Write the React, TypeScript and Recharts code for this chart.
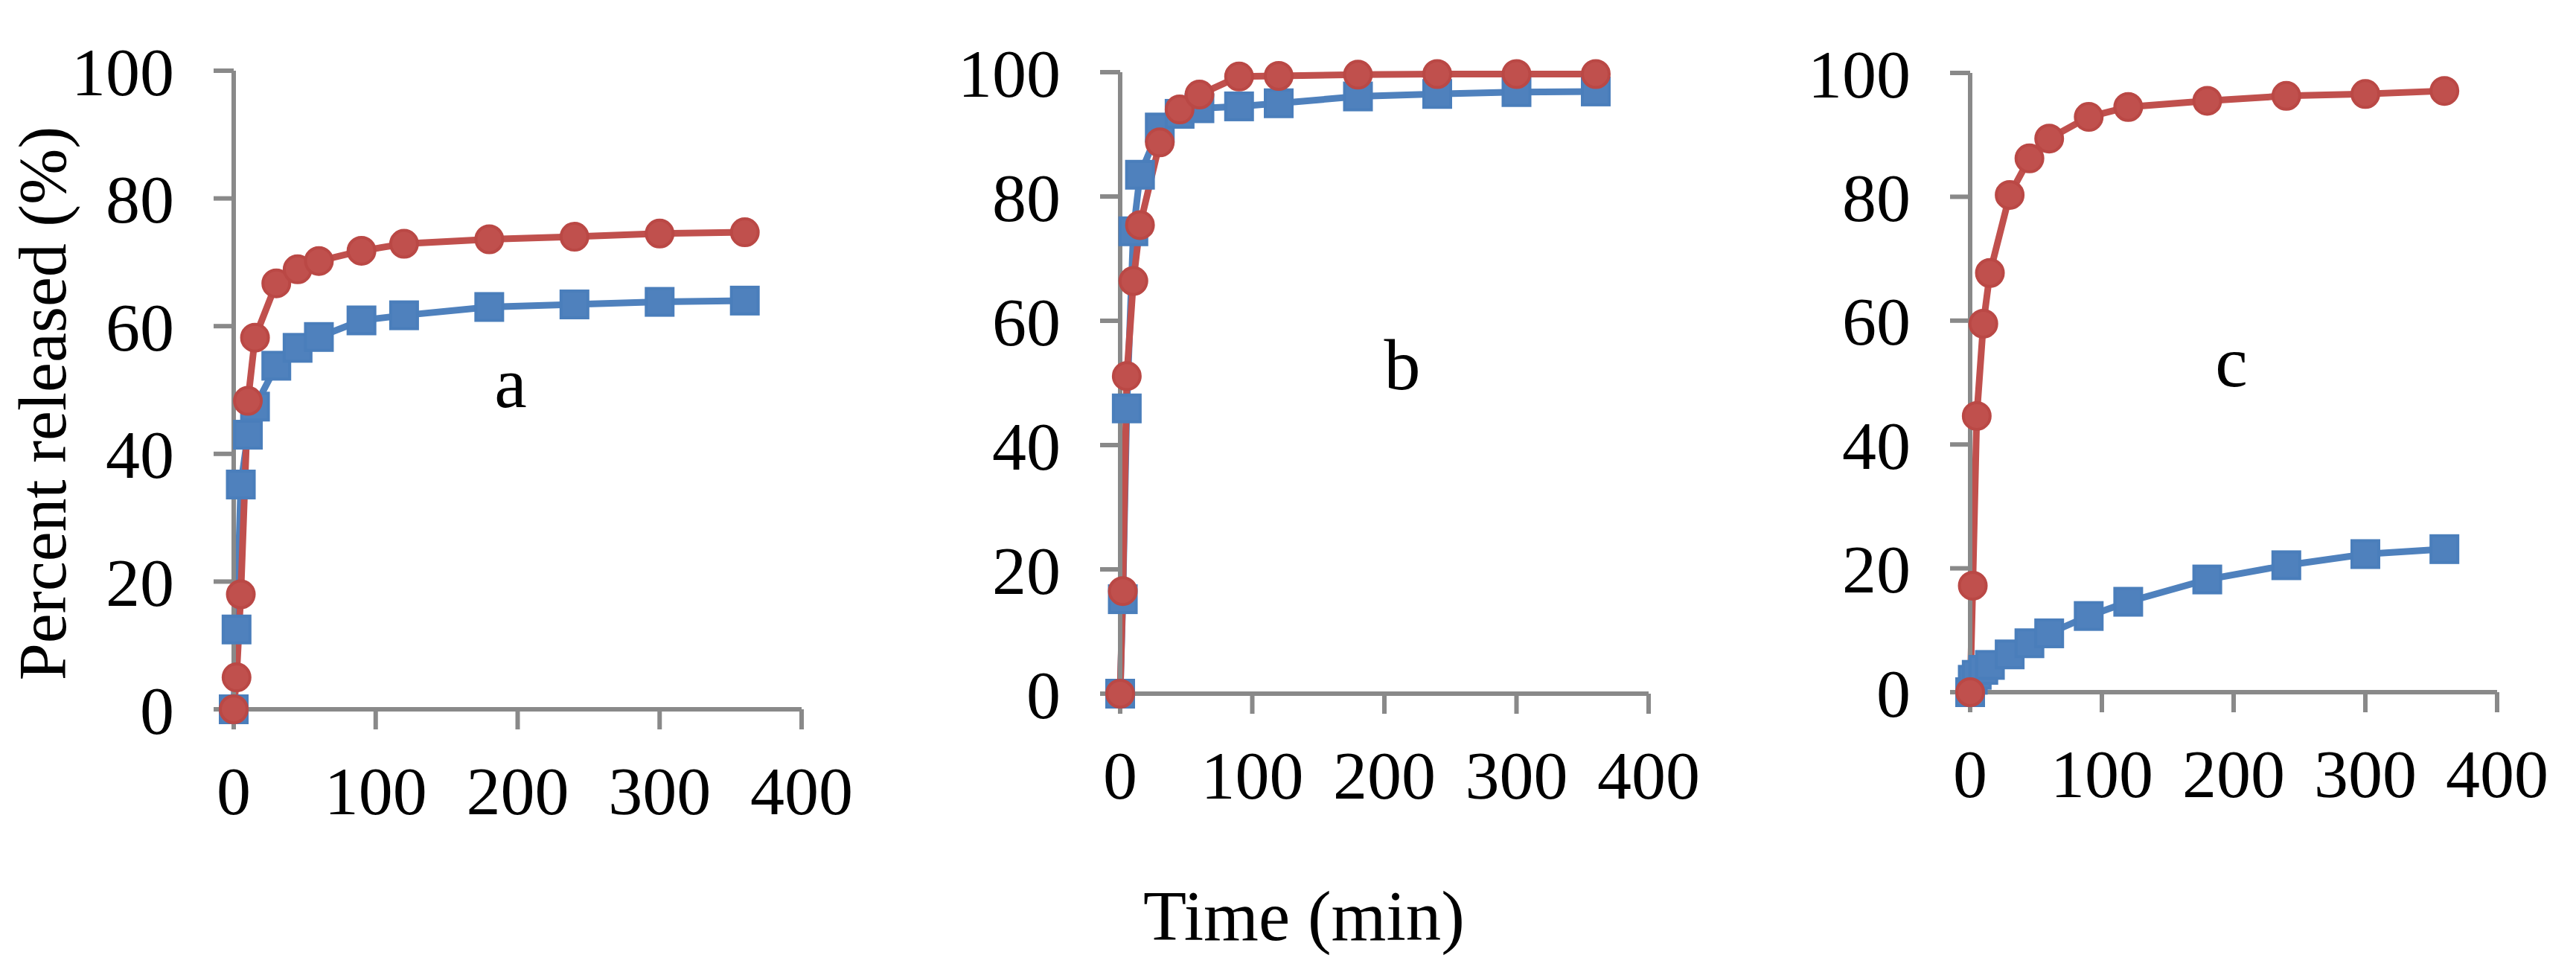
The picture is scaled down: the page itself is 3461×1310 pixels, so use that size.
import React from 'react';
import { LineChart, Line, XAxis, YAxis } from 'recharts';

// ---- data ----
const times = [0, 2, 5, 10, 15, 30, 45, 60, 90, 120, 180, 240, 300, 360];

const aBlue = [0, 12.5, 35.2, 43.0, 47.4, 53.8, 56.6, 58.3, 60.9, 61.7, 63.0, 63.4, 63.8, 64.0];
const aRed = [0, 5.0, 18.0, 48.3, 58.2, 66.7, 68.9, 70.2, 71.8, 72.9, 73.6, 74.0, 74.5, 74.7];

const bBlue = [0, 15.2, 45.9, 74.4, 83.5, 91.1, 93.3, 94.2, 94.5, 95.0, 96.1, 96.5, 96.8, 96.9];
const bRed = [0, 16.5, 51.1, 66.4, 75.4, 88.7, 94.0, 96.4, 99.3, 99.4, 99.6, 99.7, 99.7, 99.7];

const cBlue = [0, 2.0, 2.8, 3.6, 4.4, 6.1, 7.9, 9.5, 12.3, 14.6, 18.2, 20.5, 22.3, 23.1];
const cRed = [0, 17.2, 44.6, 59.5, 67.7, 80.3, 86.2, 89.4, 92.9, 94.5, 95.5, 96.3, 96.6, 97.1];

const xTicks = [0, 100, 200, 300, 400];
const yTicks = [0, 20, 40, 60, 80, 100];

const panelLetters = ['a', 'b', 'c'];
const yTitle = 'Percent released (%)';
const xTitle = 'Time (min)';

// ---- style ----
const FONT = '"Liberation Serif", "Times New Roman", Times, serif';
const AXIS = '#898989';
const BLUE = '#4F81BD';
const BLUE_EDGE = '#4A7EBB';
const RED = '#C0504D';
const RED_EDGE = '#BA4845';

const buildRows = (blue: number[], red: number[]) =>
  times.map((t, i) => ({ t, blue: blue[i], red: red[i] }));

const SquareDot = (props: any) => {
  const { cx, cy, index } = props;
  if (cx == null || cy == null) return <g key={`s${index}`} />;
  return (
    <rect
      key={`s${index}`}
      x={cx - 18}
      y={cy - 18}
      width={36}
      height={36}
      fill={BLUE}
      stroke={BLUE_EDGE}
      strokeWidth={4}
    />
  );
};

const CircleDot = (props: any) => {
  const { cx, cy, index } = props;
  if (cx == null || cy == null) return <g key={`c${index}`} />;
  return (
    <circle key={`c${index}`} cx={cx} cy={cy} r={18} fill={RED} stroke={RED_EDGE} strokeWidth={4} />
  );
};

type PanelProps = {
  left: number;
  width: number;
  margin: { top: number; right: number; left: number; bottom: number };
  rows: { t: number; blue: number; red: number }[];
};

const Panel = ({ left, width, margin, rows }: PanelProps) => (
  <div style={{ position: 'absolute', left, top: 0, width, height: 1310 }}>
    <LineChart width={width} height={1310} data={rows} margin={margin}>
      <XAxis
        type="number"
        dataKey="t"
        domain={[0, 400]}
        ticks={xTicks}
        interval={0}
        height={200}
        axisLine={{ stroke: AXIS, strokeWidth: 6 }}
        tickLine={{ stroke: AXIS, strokeWidth: 6 }}
        tickSize={27}
        tickMargin={49}
        tick={{ fill: '#000', fontSize: 92, fontFamily: FONT }}
      />
      <YAxis
        type="number"
        domain={[0, 100]}
        ticks={yTicks}
        interval={0}
        width={200}
        axisLine={{ stroke: AXIS, strokeWidth: 6 }}
        tickLine={{ stroke: AXIS, strokeWidth: 6 }}
        tickSize={27}
        tickMargin={53}
        tick={{ fill: '#000', fontSize: 92, fontFamily: FONT }}
      />
      <Line
        type="linear"
        dataKey="blue"
        stroke={BLUE}
        strokeWidth={9}
        dot={SquareDot}
        activeDot={false}
        isAnimationActive={false}
      />
      <Line
        type="linear"
        dataKey="red"
        stroke={RED}
        strokeWidth={9}
        dot={CircleDot}
        activeDot={false}
        isAnimationActive={false}
      />
    </LineChart>
  </div>
);

export default function App() {
  return (
    <div
      style={{
        position: 'absolute',
        left: 0,
        top: 0,
        width: 3461,
        height: 1310,
        background: '#fff',
        overflow: 'hidden',
      }}
    >
      <Panel
        left={0}
        width={1150}
        margin={{ top: 95, right: 73, left: 114, bottom: 157 }}
        rows={buildRows(aBlue, aRed)}
      />
      <Panel
        left={1150}
        width={1150}
        margin={{ top: 97, right: 85, left: 155, bottom: 178 }}
        rows={buildRows(bBlue, bRed)}
      />
      <Panel
        left={2300}
        width={1161}
        margin={{ top: 98, right: 106, left: 147, bottom: 180 }}
        rows={buildRows(cBlue, cRed)}
      />
      <svg
        width={3461}
        height={1310}
        style={{ position: 'absolute', left: 0, top: 0, pointerEvents: 'none' }}
      >
        <text
          x={88}
          y={542}
          transform="rotate(-90 88 542)"
          textAnchor="middle"
          fontFamily={FONT}
          fontSize={90}
          fill="#000"
        >
          {yTitle}
        </text>
        <text x={1752} y={1263} textAnchor="middle" fontFamily={FONT} fontSize={95} fill="#000">
          {xTitle}
        </text>
        <text x={686} y={547} textAnchor="middle" fontFamily={FONT} fontSize={98} fill="#000">
          {panelLetters[0]}
        </text>
        <text x={1884} y={523} textAnchor="middle" fontFamily={FONT} fontSize={98} fill="#000">
          {panelLetters[1]}
        </text>
        <text x={2998} y={519} textAnchor="middle" fontFamily={FONT} fontSize={98} fill="#000">
          {panelLetters[2]}
        </text>
      </svg>
    </div>
  );
}
